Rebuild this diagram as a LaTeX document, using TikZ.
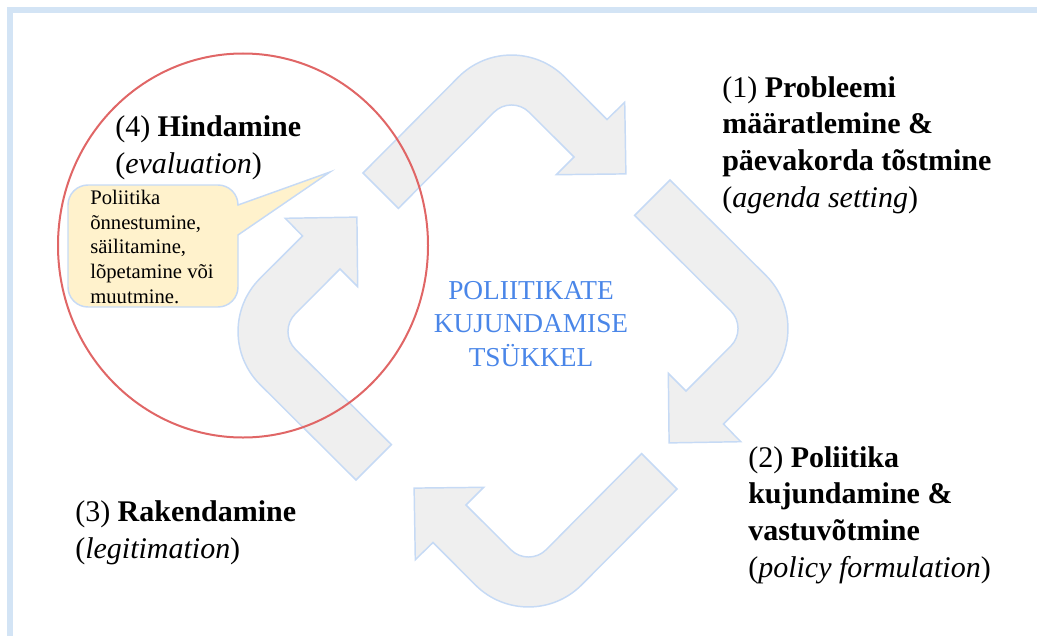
\documentclass[tikz,border=0pt]{standalone}
\usepackage{fontspec}
\setmainfont{Liberation Serif}
\definecolor{framebl}{HTML}{D3E4F5}
\definecolor{arrowgray}{HTML}{EFEFEF}
\definecolor{arrowline}{HTML}{C6DAF5}
\definecolor{circlered}{HTML}{E06666}
\definecolor{notefill}{HTML}{FFF2CC}
\definecolor{titleblue}{HTML}{4A86E8}
\tikzset{
  stage/.style={anchor=base west, align=left, inner sep=0pt,
    font=\fontsize{22.5}{27.4}\selectfont},
  cyclearrow/.style={fill=arrowgray, draw=arrowline, line width=1.1pt},
}

\begin{document}
\begin{tikzpicture}[x=0.75pt, y=-0.75pt]
    \useasboundingbox (0,0) rectangle (1037,635);
    \draw[framebl, line width=4.5pt] (10,645) -- (10,10) -- (1045,10);
    % four bent arrows round the centre
    \foreach \ang/\dx/\dy in {0/0/0, -90/0/0, -180/14/-2, -270/0/0} {
        \begin{scope}[shift={(513,330)}, y=0.75pt, shift={(\dx,\dy)}, rotate=\ang]
            \draw[cyclearrow] (-150,157) -- (-54.5,253)
                arc[start angle=135, end angle=45, radius=75] -- (94,210.5)
                -- (111.7,227.7) -- (112.9,156.1) -- (43.3,155.3) -- (61,173)
                -- (16.2,217.7) arc[start angle=45, end angle=135, radius=25]
                -- (-114.6,121.6) -- cycle;
        \end{scope}
    }
    \draw[circlered, line width=1.5pt] (243,245.5) ellipse [x radius=185, y radius=192];
    % callout
    \draw[fill=notefill, draw=arrowline, line width=1.1pt] (88,185) -- (218,185)
        arc[start angle=270, end angle=360, radius=20] -- (238,205) -- (330,172)
        -- (238,235) -- (238,287) arc[start angle=0, end angle=90, radius=20]
        -- (88,307) arc[start angle=90, end angle=180, radius=20]
        -- (68,205) arc[start angle=180, end angle=270, radius=20] -- cycle;
    % anchors sit on the last baseline
    \node[anchor=base west, align=left, inner sep=0pt,
        font=\fontsize{15.5}{18.4}\selectfont] (note) at (90,303)
        {Poliitika\\õnnestumine,\\säilitamine,\\lõpetamine või\\muutmine.};
    \node[stage] (lab4) at (115,173) {(4) \textbf{Hindamine}\\(\textit{evaluation})};
    \node[stage] (lab1) at (722,207) {(1) \textbf{Probleemi}\\\textbf{määratlemine \&}\\\textbf{päevakorda tõstmine}\\(\textit{agenda setting})};
    \node[stage] (lab2) at (748,577) {(2) \textbf{Poliitika}\\\textbf{kujundamine \&}\\\textbf{vastuvõtmine}\\(\textit{policy formulation})};
    \node[stage] (lab3) at (75,558) {(3) \textbf{Rakendamine}\\(\textit{legitimation})};
    \node[titleblue, anchor=base, align=center, inner sep=0pt,
        font=\fontsize{20.5}{25}\selectfont] (cycletitle) at (531,366)
        {POLIITIKATE\\KUJUNDAMISE\\TSÜKKEL};
\end{tikzpicture}
\end{document}
